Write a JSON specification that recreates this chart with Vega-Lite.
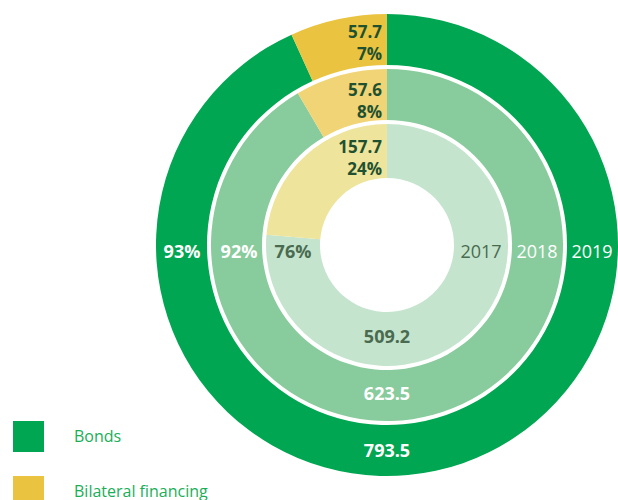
{
  "$schema": "https://vega.github.io/schema/vega-lite/v6.json",
  "width": 462,
  "height": 490,
  "autosize": {"type": "none"},
  "padding": {"left": 156, "top": 0, "right": 0, "bottom": 10},
  "background": "white",
  "config": {"view": {"stroke": null}, "font": "Open Sans", "text": {"font": "Open Sans"}},
  "data": {
    "values": [
      {"year": 2017, "type": "Bonds", "value": 509.2},
      {"year": 2017, "type": "Bilateral financing", "value": 157.7},
      {"year": 2018, "type": "Bonds", "value": 623.5},
      {"year": 2018, "type": "Bilateral financing", "value": 57.6},
      {"year": 2019, "type": "Bonds", "value": 793.5},
      {"year": 2019, "type": "Bilateral financing", "value": 57.7}
    ]
  },
  "transform": [
    {"joinaggregate": [{"op": "sum", "field": "value", "as": "total"}], "groupby": ["year"]},
    {"calculate": "datum.value / datum.total", "as": "share"},
    {"calculate": "[format(datum.value, '.1f'), format(datum.share, '.0%')]", "as": "lbl"},
    {"calculate": "format(datum.value, '.1f')", "as": "vlbl"},
    {"calculate": "format(datum.share, '.0%')", "as": "plbl"},
    {"calculate": "'' + datum.year", "as": "ylbl"}
  ],
  "resolve": {"scale": {"color": "independent"}},
  "layer": [
    {
      "transform": [{"filter": "datum.year == 2019"}],
      "layer": [
        {
          "mark": {"type": "arc", "radius": 231, "radius2": 180},
          "encoding": {
            "theta": {"field": "value", "type": "quantitative", "stack": "normalize"},
            "order": {"field": "type", "sort": "descending"},
            "color": {
              "field": "type", "type": "nominal",
              "scale": {"domain": ["Bonds", "Bilateral financing"], "range": ["#00A651", "#EAC440"]},
              "legend": {
                "orient": "none", "legendX": -143, "legendY": 421, "title": null,
                "symbolType": "square", "symbolSize": 961, "symbolStrokeWidth": 0, "symbolOpacity": 1,
                "labelFontSize": 16, "labelColor": "#1AAE57", "labelFont": "Open Sans",
                "rowPadding": 24, "labelOffset": 30, "padding": 0
              }
            }
          }
        },
        {
          "transform": [{"filter": "datum.type == 'Bilateral financing'"}],
          "mark": {"type": "text", "theta": 0, "radius": 212, "align": "right", "dx": -5, "baseline": "middle", "fontSize": 17, "fontWeight": "bold", "color": "#1F5130", "lineHeight": 22},
          "encoding": {"text": {"field": "lbl"}}
        },
        {
          "transform": [{"filter": "datum.type == 'Bonds'"}],
          "mark": {"type": "text", "theta": 4.712389, "radius": 205, "align": "center", "dy": 8, "baseline": "middle", "fontSize": 18, "fontWeight": "bold", "color": "white"},
          "encoding": {"text": {"field": "plbl"}}
        },
        {
          "transform": [{"filter": "datum.type == 'Bonds'"}],
          "mark": {"type": "text", "theta": 1.570796, "radius": 205, "align": "center", "dy": 8, "baseline": "middle", "fontSize": 18, "color": "white"},
          "encoding": {"text": {"field": "ylbl"}}
        },
        {
          "transform": [{"filter": "datum.type == 'Bonds'"}],
          "mark": {"type": "text", "theta": 3.141593, "radius": 207, "align": "center", "baseline": "middle", "fontSize": 18, "fontWeight": "bold", "color": "white"},
          "encoding": {"text": {"field": "vlbl"}}
        }
      ]
    },
    {
      "transform": [{"filter": "datum.year == 2018"}],
      "layer": [
        {
          "mark": {"type": "arc", "radius": 176, "radius2": 125},
          "encoding": {
            "theta": {"field": "value", "type": "quantitative", "stack": "normalize"},
            "order": {"field": "type", "sort": "descending"},
            "color": {
              "field": "type", "type": "nominal",
              "scale": {"domain": ["Bonds", "Bilateral financing"], "range": ["#88CB9C", "#F0D475"]},
              "legend": null
            }
          }
        },
        {
          "transform": [{"filter": "datum.type == 'Bilateral financing'"}],
          "mark": {"type": "text", "theta": 0, "radius": 154, "align": "right", "dx": -5, "baseline": "middle", "fontSize": 17, "fontWeight": "bold", "color": "#1F5130", "lineHeight": 22},
          "encoding": {"text": {"field": "lbl"}}
        },
        {
          "transform": [{"filter": "datum.type == 'Bonds'"}],
          "mark": {"type": "text", "theta": 4.712389, "radius": 148, "align": "center", "dy": 8, "baseline": "middle", "fontSize": 18, "fontWeight": "bold", "color": "white"},
          "encoding": {"text": {"field": "plbl"}}
        },
        {
          "transform": [{"filter": "datum.type == 'Bonds'"}],
          "mark": {"type": "text", "theta": 1.570796, "radius": 150, "align": "center", "dy": 8, "baseline": "middle", "fontSize": 18, "color": "white"},
          "encoding": {"text": {"field": "ylbl"}}
        },
        {
          "transform": [{"filter": "datum.type == 'Bonds'"}],
          "mark": {"type": "text", "theta": 3.141593, "radius": 150, "align": "center", "baseline": "middle", "fontSize": 18, "fontWeight": "bold", "color": "white"},
          "encoding": {"text": {"field": "vlbl"}}
        }
      ]
    },
    {
      "transform": [{"filter": "datum.year == 2017"}],
      "layer": [
        {
          "mark": {"type": "arc", "radius": 121, "radius2": 67},
          "encoding": {
            "theta": {"field": "value", "type": "quantitative", "stack": "normalize"},
            "order": {"field": "type", "sort": "descending"},
            "color": {
              "field": "type", "type": "nominal",
              "scale": {"domain": ["Bonds", "Bilateral financing"], "range": ["#C5E4CD", "#EFE49B"]},
              "legend": null
            }
          }
        },
        {
          "transform": [{"filter": "datum.type == 'Bilateral financing'"}],
          "mark": {"type": "text", "theta": 0, "radius": 97, "align": "right", "dx": -5, "baseline": "middle", "fontSize": 17, "fontWeight": "bold", "color": "#1F5130", "lineHeight": 22},
          "encoding": {"text": {"field": "lbl"}}
        },
        {
          "transform": [{"filter": "datum.type == 'Bonds'"}],
          "mark": {"type": "text", "theta": 4.712389, "radius": 94, "align": "center", "dy": 8, "baseline": "middle", "fontSize": 18, "fontWeight": "bold", "color": "#4A6B50"},
          "encoding": {"text": {"field": "plbl"}}
        },
        {
          "transform": [{"filter": "datum.type == 'Bonds'"}],
          "mark": {"type": "text", "theta": 1.570796, "radius": 94, "align": "center", "dy": 8, "baseline": "middle", "fontSize": 18, "color": "#4A6B50"},
          "encoding": {"text": {"field": "ylbl"}}
        },
        {
          "transform": [{"filter": "datum.type == 'Bonds'"}],
          "mark": {"type": "text", "theta": 3.141593, "radius": 93, "align": "center", "baseline": "middle", "fontSize": 18, "fontWeight": "bold", "color": "#4A6B50"},
          "encoding": {"text": {"field": "vlbl"}}
        }
      ]
    }
  ]
}
